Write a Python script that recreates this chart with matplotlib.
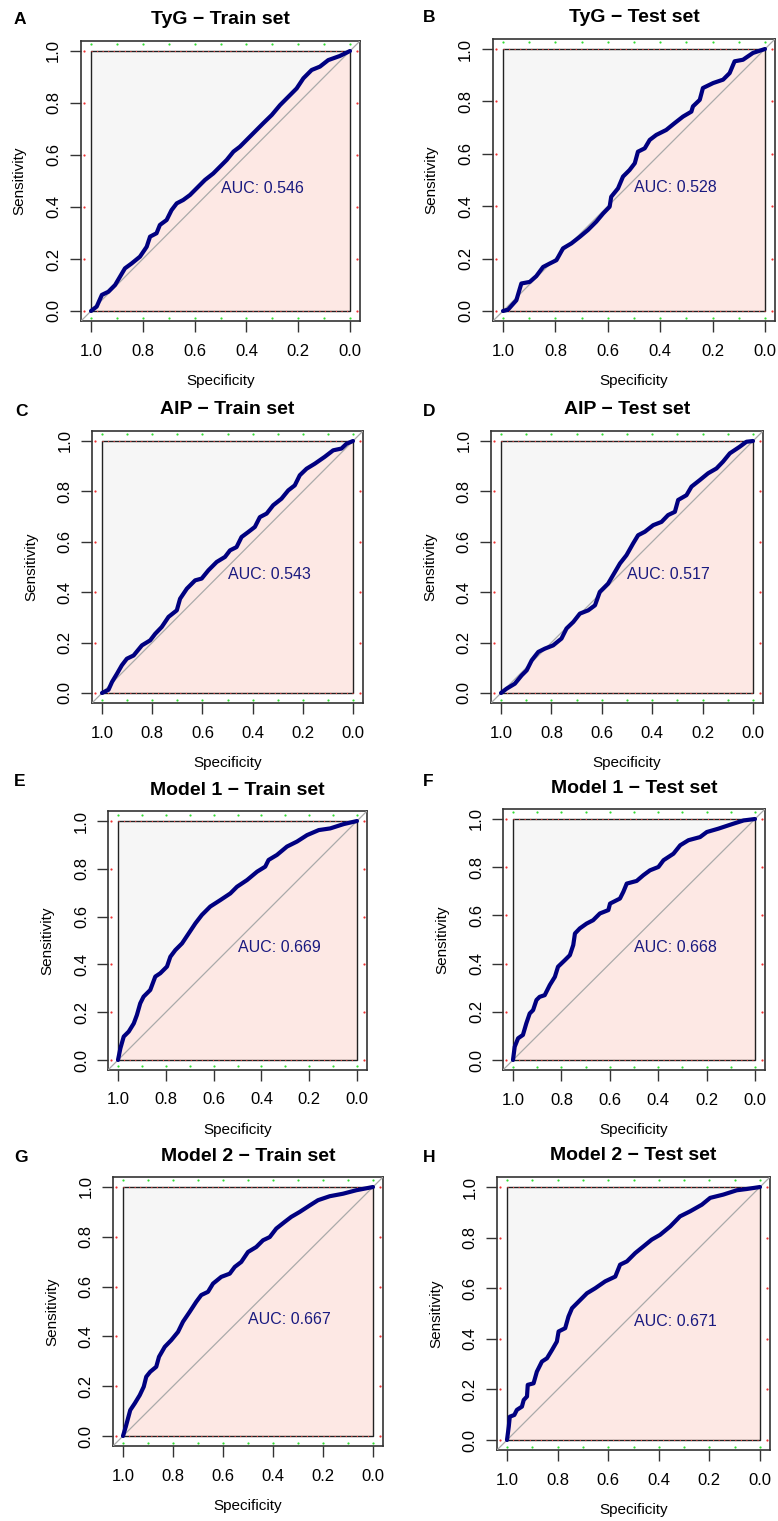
import numpy as np
import matplotlib
matplotlib.use("Agg")
import matplotlib.pyplot as plt

plt.rcParams['font.family'] = ['Liberation Sans', 'DejaVu Sans']

# ROC curves: (specificity, sensitivity)
tyg_train_spec = [1.0, 0.978, 0.958, 0.933, 0.907, 0.888, 0.869, 0.843, 0.811, 0.785, 0.772, 0.747, 0.734, 0.708,
                  0.689, 0.669, 0.644, 0.618, 0.592, 0.560, 0.528, 0.502, 0.476, 0.450, 0.425, 0.399, 0.367, 0.335,
                  0.302, 0.270, 0.238, 0.206, 0.180, 0.148, 0.116, 0.084, 0.039, 0.0]
tyg_train_sens = [0.0, 0.017, 0.062, 0.074, 0.100, 0.132, 0.164, 0.183, 0.209, 0.247, 0.286, 0.299, 0.331, 0.350,
                  0.388, 0.414, 0.427, 0.446, 0.472, 0.504, 0.529, 0.555, 0.581, 0.613, 0.632, 0.658, 0.690, 0.722,
                  0.754, 0.792, 0.824, 0.856, 0.895, 0.927, 0.940, 0.965, 0.981, 1.0]

tyg_test_spec = [1.0, 0.981, 0.949, 0.930, 0.898, 0.873, 0.847, 0.822, 0.796, 0.771, 0.739, 0.707, 0.676, 0.644,
                 0.618, 0.593, 0.587, 0.561, 0.542, 0.517, 0.497, 0.485, 0.459, 0.440, 0.415, 0.377, 0.345, 0.313,
                 0.281, 0.275, 0.249, 0.237, 0.198, 0.160, 0.135, 0.116, 0.084, 0.046, 0.0]
tyg_test_sens = [0.0, 0.005, 0.041, 0.105, 0.111, 0.133, 0.168, 0.181, 0.194, 0.239, 0.258, 0.283, 0.309, 0.341,
                 0.372, 0.398, 0.436, 0.468, 0.513, 0.538, 0.564, 0.608, 0.621, 0.653, 0.672, 0.691, 0.717, 0.742,
                 0.761, 0.781, 0.806, 0.851, 0.870, 0.883, 0.908, 0.953, 0.959, 0.985, 1.0]

aip_train_spec = [1.0, 0.974, 0.960, 0.940, 0.921, 0.901, 0.874, 0.841, 0.808, 0.788, 0.762, 0.735, 0.702, 0.689,
                  0.662, 0.629, 0.603, 0.576, 0.543, 0.510, 0.490, 0.464, 0.444, 0.417, 0.391, 0.371, 0.344, 0.318,
                  0.285, 0.258, 0.232, 0.212, 0.185, 0.152, 0.113, 0.079, 0.046, 0.026, 0.0]
aip_train_sens = [0.0, 0.013, 0.044, 0.077, 0.110, 0.136, 0.149, 0.189, 0.209, 0.235, 0.262, 0.302, 0.328, 0.374,
                  0.414, 0.447, 0.454, 0.487, 0.520, 0.540, 0.566, 0.579, 0.619, 0.639, 0.659, 0.698, 0.712, 0.745,
                  0.771, 0.804, 0.824, 0.864, 0.890, 0.910, 0.937, 0.963, 0.970, 0.989, 1.0]

aip_test_spec = [1.0, 0.978, 0.945, 0.918, 0.898, 0.878, 0.852, 0.826, 0.793, 0.760, 0.740, 0.713, 0.687, 0.654,
                 0.627, 0.608, 0.575, 0.555, 0.528, 0.502, 0.476, 0.456, 0.429, 0.396, 0.363, 0.337, 0.310, 0.297,
                 0.264, 0.244, 0.211, 0.178, 0.145, 0.119, 0.092, 0.053, 0.026, 0.0]
aip_test_sens = [0.0, 0.017, 0.037, 0.070, 0.090, 0.130, 0.163, 0.176, 0.189, 0.216, 0.256, 0.282, 0.315, 0.328,
                 0.348, 0.401, 0.434, 0.468, 0.514, 0.547, 0.593, 0.626, 0.640, 0.666, 0.679, 0.706, 0.719, 0.766,
                 0.785, 0.819, 0.845, 0.872, 0.891, 0.918, 0.951, 0.977, 0.997, 1.0]

m1_train_spec = [1.0, 0.990, 0.976, 0.955, 0.934, 0.921, 0.907, 0.893, 0.865, 0.844, 0.823, 0.795, 0.781, 0.760,
                 0.732, 0.704, 0.676, 0.649, 0.614, 0.572, 0.530, 0.502, 0.460, 0.418, 0.384, 0.370, 0.335, 0.293,
                 0.251, 0.209, 0.160, 0.112, 0.056, 0.0]
m1_train_sens = [0.0, 0.049, 0.098, 0.119, 0.153, 0.188, 0.237, 0.265, 0.293, 0.349, 0.363, 0.391, 0.432, 0.460,
                 0.488, 0.530, 0.572, 0.607, 0.642, 0.669, 0.697, 0.725, 0.753, 0.788, 0.809, 0.837, 0.858, 0.893,
                 0.914, 0.941, 0.962, 0.969, 0.987, 1.0]

m1_test_spec = [1.0, 0.993, 0.979, 0.959, 0.945, 0.931, 0.917, 0.903, 0.890, 0.869, 0.848, 0.827, 0.814, 0.786,
                0.765, 0.751, 0.744, 0.724, 0.696, 0.669, 0.641, 0.606, 0.599, 0.558, 0.544, 0.530, 0.489, 0.461,
                0.434, 0.399, 0.378, 0.337, 0.309, 0.275, 0.227, 0.199, 0.151, 0.088, 0.047, 0.0]
m1_test_sens = [0.0, 0.055, 0.090, 0.104, 0.152, 0.193, 0.207, 0.249, 0.262, 0.269, 0.311, 0.345, 0.387, 0.414,
                0.435, 0.477, 0.525, 0.546, 0.566, 0.580, 0.608, 0.622, 0.649, 0.670, 0.698, 0.732, 0.743, 0.767,
                0.787, 0.801, 0.829, 0.856, 0.891, 0.912, 0.925, 0.946, 0.960, 0.981, 0.994, 1.0]

m2_train_spec = [1.0, 0.989, 0.971, 0.953, 0.933, 0.917, 0.907, 0.891, 0.867, 0.856, 0.833, 0.807, 0.780, 0.760,
                 0.733, 0.707, 0.687, 0.660, 0.640, 0.607, 0.573, 0.553, 0.527, 0.500, 0.467, 0.440, 0.413, 0.387,
                 0.353, 0.327, 0.293, 0.253, 0.220, 0.173, 0.120, 0.067, 0.0]
m2_train_sens = [0.0, 0.037, 0.104, 0.131, 0.164, 0.198, 0.238, 0.258, 0.278, 0.318, 0.358, 0.385, 0.418, 0.459,
                 0.499, 0.539, 0.566, 0.579, 0.612, 0.639, 0.652, 0.679, 0.699, 0.739, 0.759, 0.786, 0.799, 0.833,
                 0.860, 0.880, 0.900, 0.926, 0.947, 0.963, 0.973, 0.987, 1.0]

m2_test_spec = [1.0, 0.993, 0.989, 0.971, 0.961, 0.941, 0.934, 0.921, 0.918, 0.895, 0.882, 0.862, 0.842, 0.822,
                0.803, 0.796, 0.770, 0.757, 0.743, 0.717, 0.684, 0.651, 0.612, 0.572, 0.553, 0.526, 0.493, 0.461,
                0.428, 0.395, 0.355, 0.316, 0.276, 0.230, 0.197, 0.145, 0.092, 0.053, 0.0]
m2_test_sens = [0.0, 0.053, 0.092, 0.099, 0.119, 0.132, 0.158, 0.172, 0.218, 0.224, 0.270, 0.310, 0.323, 0.356,
                0.389, 0.429, 0.442, 0.488, 0.521, 0.547, 0.580, 0.600, 0.627, 0.646, 0.693, 0.706, 0.739, 0.765,
                0.792, 0.811, 0.844, 0.884, 0.904, 0.930, 0.957, 0.970, 0.987, 0.992, 1.0]

titles = ["TyG \u2212 Train set", "TyG \u2212 Test set", "AIP \u2212 Train set", "AIP \u2212 Test set",
          "Model 1 \u2212 Train set", "Model 1 \u2212 Test set", "Model 2 \u2212 Train set", "Model 2 \u2212 Test set"]
letters = ["A", "B", "C", "D", "E", "F", "G", "H"]
auc_values = [0.546, 0.528, 0.543, 0.517, 0.669, 0.668, 0.667, 0.671]
curves = [(tyg_train_spec, tyg_train_sens), (tyg_test_spec, tyg_test_sens),
          (aip_train_spec, aip_train_sens), (aip_test_spec, aip_test_sens),
          (m1_train_spec, m1_train_sens), (m1_test_spec, m1_test_sens),
          (m2_train_spec, m2_train_sens), (m2_test_spec, m2_test_sens)]

# layout: inner (0..1) box in pixels: x_left(spec=1), x_right(spec=0), y_top(sens=1), y_bottom(sens=0)
W, H = 778, 1521
boxes = [(91, 350, 51, 311), (503, 765, 49, 311),
         (102, 353, 441, 693), (501, 753, 441, 693),
         (118, 357, 821, 1060), (513, 755, 819, 1060),
         (123, 373, 1187, 1436), (507, 760, 1187, 1440)]
letter_pos = [(20, 20), (429, 18), (21, 412), (429, 412), (20, 781), (428, 781), (21, 1157), (429, 1157)]

GREY = "#F6F6F6"
PINK = "#FDE8E4"
NAVY = "#000080"

fig = plt.figure(figsize=(W / 100, H / 100), dpi=100)

for i in range(8):
    xl, xr, yt, yb = boxes[i]
    w = xr - xl
    h = yb - yt
    ox0 = xl - 0.04 * w
    ox1 = xr + 0.04 * w
    oy0 = yt - 0.04 * h
    oy1 = yb + 0.04 * h
    ax = fig.add_axes([ox0 / W, 1 - oy1 / H, (ox1 - ox0) / W, (oy1 - oy0) / H])
    ax.set_xlim(1.04, -0.04)
    ax.set_ylim(-0.04, 1.04)

    spec, sens = curves[i]
    ax.fill_between([1, 0], [0, 0], [1, 1], color=GREY, lw=0, zorder=1)
    ax.fill_between(spec, 0, sens, color=PINK, lw=0, zorder=2)
    ax.plot([1, 0, 0, 1, 1], [0, 0, 1, 1, 0], color="#222222", lw=1.0, zorder=3)
    ax.plot([1.04, -0.04], [-0.04, 1.04], color="#AAAAAA", lw=0.9, zorder=3)

    # faint marker dots on the frame
    gx = np.linspace(0, 1, 11)
    ax.scatter(gx, np.full(11, 1.027), s=2.5, color="#33DD33", lw=0, zorder=4, clip_on=False)
    ax.scatter(gx, np.full(11, -0.027), s=2.5, color="#33DD33", lw=0, zorder=4, clip_on=False)
    ry = np.linspace(0, 1, 6)
    ax.scatter(np.full(6, 1.028), ry, s=2.5, color="#EE3333", lw=0, zorder=4, clip_on=False)
    ax.scatter(np.full(6, -0.028), ry, s=2.5, color="#EE3333", lw=0, zorder=4, clip_on=False)
    ax.plot([1, 0], [1, 1], color="#EE4444", lw=0.8, ls=(0, (1, 4)), zorder=4)
    ax.plot([1, 0], [0, 0], color="#EE4444", lw=0.8, ls=(0, (1, 4)), zorder=4)

    ax.plot(spec, sens, color=NAVY, lw=3.0, solid_joinstyle="round", solid_capstyle="round", zorder=5)

    ax.text(0.5, 0.5, "AUC: %.3f" % auc_values[i], color="#1A1A80", fontsize=11.5,
            ha="left", va="top", zorder=6)

    for s in ax.spines.values():
        s.set_color("#333333")
        s.set_linewidth(1.2)
    ticks = [0.0, 0.2, 0.4, 0.6, 0.8, 1.0]
    ax.set_xticks(ticks)
    ax.set_yticks(ticks)
    ax.set_xticklabels(["%.1f" % t for t in ticks])
    ax.set_yticklabels(["%.1f" % t for t in ticks])
    ax.tick_params(direction="out", length=8, width=1.0, color="#333333", labelsize=12)
    ax.tick_params(axis="x", pad=8.5)
    ax.tick_params(axis="y", labelrotation=90, pad=6)
    for lab in ax.get_yticklabels():
        lab.set_va("center")

    ax.annotate("Specificity", xy=(0.5, 0), xycoords="axes fraction", xytext=(0, -60),
                textcoords="offset pixels", ha="center", va="center", fontsize=11)
    ax.annotate("Sensitivity", xy=(0, 0.5), xycoords="axes fraction", xytext=(-61, 0),
                textcoords="offset pixels", ha="center", va="center", fontsize=11, rotation=90)
    ax.annotate(titles[i], xy=(0.5, 1), xycoords="axes fraction", xytext=(0, 21),
                textcoords="offset pixels", ha="center", va="center", fontsize=14, fontweight="bold")

    lx, ly = letter_pos[i]
    fig.text(lx / W, 1 - ly / H, letters[i], ha="center", va="center", fontsize=12.5, fontweight="bold")

fig.savefig("out.png", dpi=100)
